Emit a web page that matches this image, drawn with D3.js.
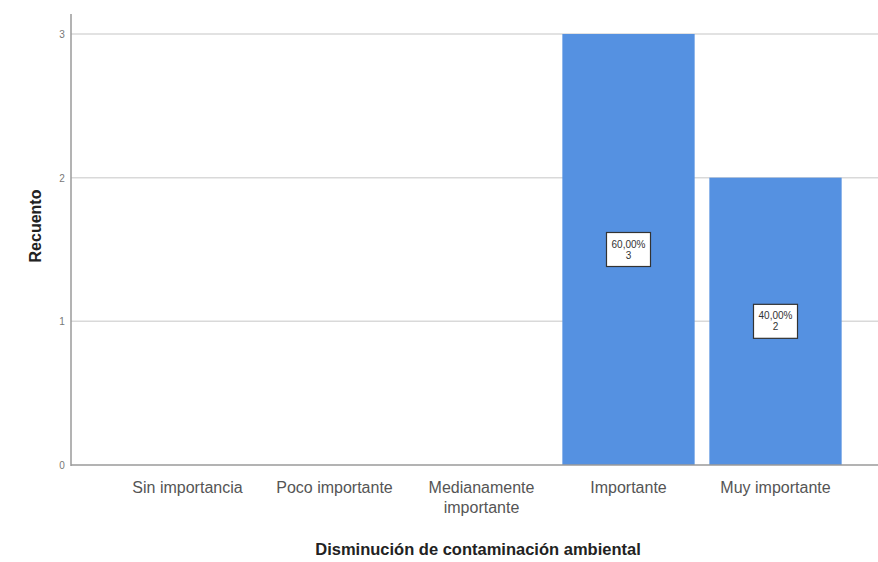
<!DOCTYPE html>
<html><head><meta charset="utf-8">
<script src="https://cdn.jsdelivr.net/npm/d3@7"></script>
<style>body{margin:0;background:#fff}svg{display:block}</style>
</head><body>
<svg id="c" width="878" height="562"></svg>
<script>
const categories = ["Sin importancia","Poco importante","Medianamente importante","Importante","Muy importante"];
const counts = [0,0,0,3,2];
const percents = ["","","","60,00%","40,00%"];
const yTicks = [0,1,2,3];
const xTitle = "Disminución de contaminación ambiental";
const yTitle = "Recuento";

const svg = d3.select("#c");
const font = "'Liberation Sans', Arial, sans-serif";
const x0 = 71, xEnd = 878, yBase = 465, yTop = 34;
const y = d3.scaleLinear().domain([0,3]).range([yBase, yTop]);
const x = d3.scaleBand().domain(categories).range([114, 849]).paddingInner(0.1).paddingOuter(0.05);

// gridlines
svg.append("g").selectAll("line").data(yTicks.filter(d=>d>0)).join("line")
  .attr("x1", x0).attr("x2", xEnd).attr("y1", d=>y(d)).attr("y2", d=>y(d))
  .attr("stroke", "#d9d9d9").attr("stroke-width", 1.5);

// bars
svg.append("g").selectAll("rect").data(categories.map((c,i)=>({c, v:counts[i], p:percents[i]})).filter(d=>d.v>0)).join("rect")
  .attr("x", d=>x(d.c)).attr("width", x.bandwidth())
  .attr("y", d=>y(d.v)).attr("height", d=>yBase - y(d.v))
  .attr("fill", "#5591e1");

// axes lines
svg.append("line").attr("x1", x0).attr("x2", x0).attr("y1", 14).attr("y2", yBase+1)
  .attr("stroke", "#9a9a9a").attr("stroke-width", 1.5);
svg.append("line").attr("x1", x0).attr("x2", xEnd).attr("y1", yBase).attr("y2", yBase)
  .attr("stroke", "#9a9a9a").attr("stroke-width", 1.5);

// y tick labels
svg.append("g").selectAll("text").data(yTicks).join("text")
  .attr("x", 62).attr("y", d=>y(d)+4).attr("text-anchor","middle")
  .attr("font-family", font).attr("font-size", 10).attr("fill", "#777")
  .text(d=>d);

// x tick labels
const xl = svg.append("g").selectAll("text").data(categories).join("text")
  .attr("x", d=>x(d)+x.bandwidth()/2).attr("y", 493)
  .attr("text-anchor","middle").attr("font-family", font).attr("font-size", 16)
  .attr("fill", "#555");
xl.each(function(d){
  const t = d3.select(this);
  if (d === "Medianamente importante") {
    t.append("tspan").attr("x", x(d)+x.bandwidth()/2).attr("dy", 0).text("Medianamente");
    t.append("tspan").attr("x", x(d)+x.bandwidth()/2).attr("dy", 20).text("importante");
  } else t.text(d);
});

// value labels
const lbl = svg.append("g").selectAll("g").data(categories.map((c,i)=>({c, v:counts[i], p:percents[i]})).filter(d=>d.v>0)).join("g")
  .attr("transform", d=>`translate(${x(d.c)+x.bandwidth()/2},${(y(d.v)+yBase)/2})`);
lbl.append("rect").attr("x",-22).attr("y",-17).attr("width",44).attr("height",34)
  .attr("fill","#fff").attr("stroke","#333").attr("stroke-width",1.2);
lbl.append("text").attr("y",-2).attr("text-anchor","middle").attr("font-family",font)
  .attr("font-size",10).attr("fill","#333").text(d=>d.p);
lbl.append("text").attr("y",9).attr("text-anchor","middle").attr("font-family",font)
  .attr("font-size",10).attr("fill","#333").text(d=>d.v);

// titles
svg.append("text").attr("x", 478).attr("y", 555).attr("text-anchor","middle")
  .attr("font-family", font).attr("font-size", 16.5).attr("font-weight","bold").attr("fill","#222")
  .text(xTitle);
svg.append("text").attr("transform","translate(41,226) rotate(-90)").attr("text-anchor","middle")
  .attr("font-family", font).attr("font-size", 16).attr("font-weight","bold").attr("fill","#222")
  .text(yTitle);
</script>
</body></html>
